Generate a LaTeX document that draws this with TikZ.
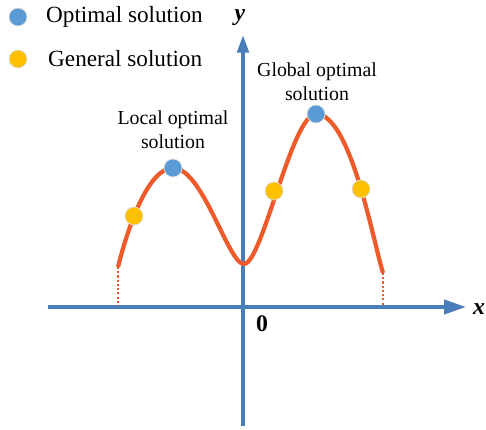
\documentclass[tikz,border=0pt]{standalone}
\usepackage{fontspec}
\setmainfont{Liberation Serif}
\usetikzlibrary{arrows.meta}
\definecolor{axisblue}{HTML}{4A7EBB}
\definecolor{curvered}{HTML}{EE5A2A}
\definecolor{optblue}{HTML}{5B9BD5}
\definecolor{genyellow}{HTML}{FFC000}
\begin{document}
\begin{tikzpicture}[
    x=0.02cm, y=-0.02cm,
    axis/.style={color=axisblue, line width=2.2pt},
    curve/.style={color=curvered, line width=2.4pt},
    guide/.style={color=curvered, line width=1pt, dash pattern=on 1.2pt off 1.2pt},
    optdot/.style={circle, fill=optblue, draw=gray!25, line width=0.4pt, minimum size=0.36cm, inner sep=0pt},
    gendot/.style={circle, fill=genyellow, draw=gray!25, line width=0.4pt, minimum size=0.36cm, inner sep=0pt},
    legend/.style={anchor=west, font=\fontsize{13.2}{15}\selectfont},
    note/.style={align=center, font=\fontsize{11.3}{13.5}\selectfont}
]
    \useasboundingbox (0,0) rectangle (486,429);

    % axes
    \coordinate (xs) at (48,307);
    \coordinate (xe) at (466,307);
    \coordinate (ys) at (243,426);
    \coordinate (ye) at (243,35);
    \draw[axis, -{Triangle[length=12.5pt, width=8pt]}] (xs) -- (xe);
    \draw[axis, -{Triangle[length=10pt, width=6.5pt]}] (ys) -- (ye);
    \node[font=\fontsize{13.5}{15}\selectfont\bfseries\itshape] (xlab) at (479,309) {x};
    \node[font=\fontsize{13.5}{15}\selectfont\bfseries\itshape] (ylab) at (240,18) {y};
    \node[font=\fontsize{13.5}{15}\selectfont\bfseries] (orig) at (262,324) {0};

    % curve
    \coordinate (c0) at (118,267);
    \coordinate (c1) at (173,168);
    \coordinate (c2) at (244,264);
    \coordinate (c3) at (316,114);
    \coordinate (c4) at (383,273);
    \coordinate (g0) at (118,306);
    \coordinate (g4) at (383,306);
    \draw[guide] (c0) -- (g0);
    \draw[guide] (c4) -- (g4);
    \draw[curve] (c0) .. controls (130,219) and (150,168) .. (c1)
        .. controls (203,168) and (228,264) .. (c2)
        .. controls (262,264) and (292,114) .. (c3)
        .. controls (350,114) and (372,236) .. (c4);

    % points
    \node[gendot] (p1) at (134,216) {};
    \node[optdot] (p2) at (c1) {};
    \node[gendot] (p3) at (274,191) {};
    \node[optdot] (p4) at (c3) {};
    \node[gendot] (p5) at (361,189) {};

    \node[note] (lloc) at (173,130) {Local optimal\\solution};
    \node[note] (lglob) at (317,82) {Global optimal\\solution};

    % legend
    \node[optdot] (k1) at (18,17) {};
    \node[legend] (t1) at (40,17) {Optimal solution};
    \node[gendot] (k2) at (18,59) {};
    \node[legend] (t2) at (42,59) {General solution};
\end{tikzpicture}
\end{document}
